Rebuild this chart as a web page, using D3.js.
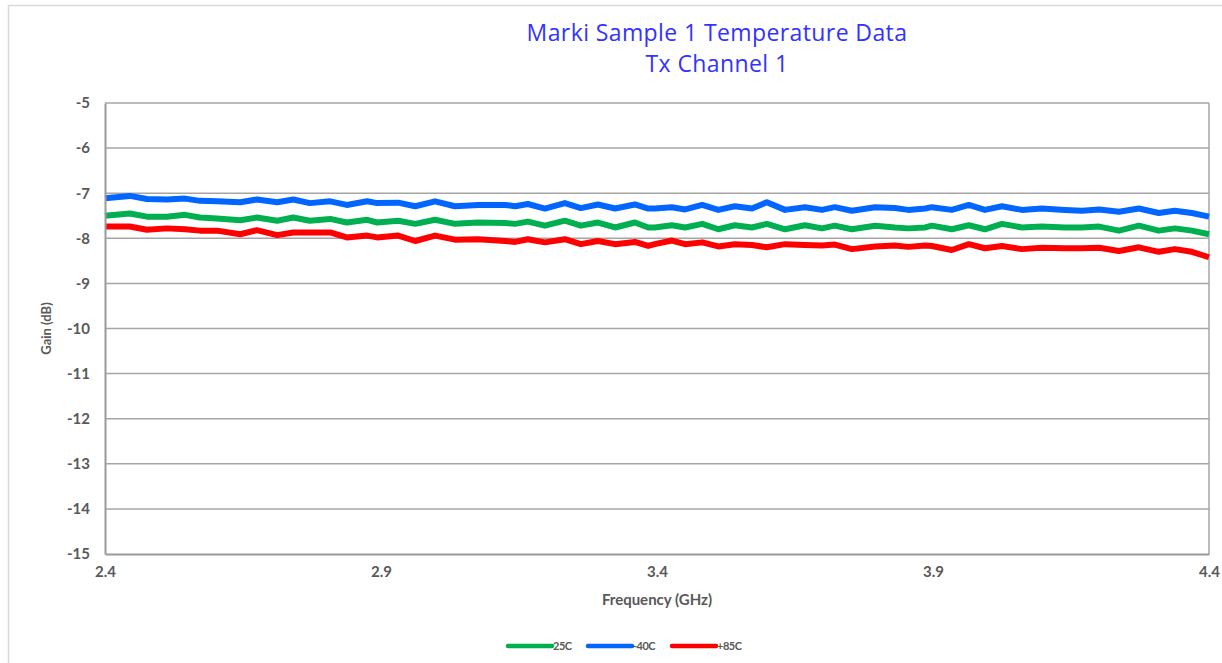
<!DOCTYPE html>
<html>
<head>
<meta charset="utf-8">
<script src="https://cdn.jsdelivr.net/npm/d3@7"></script>
<style>
  html, body { margin: 0; padding: 0; background: #ffffff; }
  svg { display: block; }
</style>
</head>
<body>
<svg id="chart" width="1222" height="663"></svg>
<script>
// ---- data ----
const titleLines = ["Marki Sample 1 Temperature Data", "Tx Channel 1"];
const xTickValues = [2.4, 2.9, 3.4, 3.9, 4.4];
const yTickValues = [-5, -6, -7, -8, -9, -10, -11, -12, -13, -14, -15];
const seriesNames = ["25C", "-40C", "+85C"];

const freq = [
  2.400, 2.445, 2.476, 2.512, 2.545, 2.572, 2.603, 2.645, 2.675, 2.712, 2.741, 2.771, 2.808, 2.838, 2.875, 2.893,
  2.931, 2.962, 2.998, 3.034, 3.076, 3.125, 3.143, 3.166, 3.197, 3.233, 3.262, 3.293, 3.324, 3.360, 3.384,
  3.396, 3.427, 3.451, 3.482, 3.511, 3.541, 3.572, 3.599, 3.632, 3.668, 3.699, 3.722, 3.753, 3.795, 3.831, 3.855, 3.886,
  3.898, 3.934, 3.965, 3.994, 4.025, 4.061, 4.097, 4.139, 4.170, 4.201, 4.237, 4.273, 4.309, 4.338, 4.369, 4.400
];

const gain25C = [
  -7.50, -7.45, -7.52, -7.52, -7.48, -7.54, -7.56, -7.60, -7.54, -7.61, -7.54, -7.61, -7.57, -7.65, -7.59, -7.65,
  -7.61, -7.68, -7.59, -7.68, -7.65, -7.66, -7.68, -7.63, -7.72, -7.61, -7.72, -7.65, -7.76, -7.65, -7.76,
  -7.76, -7.71, -7.76, -7.68, -7.80, -7.71, -7.76, -7.68, -7.80, -7.71, -7.78, -7.72, -7.80, -7.72, -7.76, -7.78, -7.76,
  -7.72, -7.80, -7.71, -7.80, -7.68, -7.76, -7.74, -7.76, -7.76, -7.74, -7.83, -7.72, -7.83, -7.78, -7.83, -7.91
];

const gainM40C = [
  -7.11, -7.06, -7.13, -7.14, -7.12, -7.17, -7.18, -7.20, -7.14, -7.20, -7.14, -7.22, -7.18, -7.26, -7.18, -7.22,
  -7.21, -7.29, -7.18, -7.29, -7.26, -7.26, -7.29, -7.24, -7.34, -7.22, -7.33, -7.25, -7.34, -7.25, -7.34,
  -7.34, -7.31, -7.36, -7.26, -7.37, -7.29, -7.34, -7.20, -7.37, -7.31, -7.37, -7.31, -7.39, -7.31, -7.33, -7.37, -7.34,
  -7.31, -7.37, -7.26, -7.37, -7.29, -7.37, -7.34, -7.37, -7.39, -7.36, -7.41, -7.34, -7.44, -7.39, -7.44, -7.52
];

const gainP85C = [
  -7.74, -7.74, -7.81, -7.78, -7.80, -7.83, -7.83, -7.91, -7.82, -7.93, -7.87, -7.87, -7.87, -7.98, -7.94, -7.98,
  -7.94, -8.06, -7.94, -8.03, -8.02, -8.06, -8.08, -8.02, -8.09, -8.02, -8.13, -8.06, -8.13, -8.08, -8.17,
  -8.13, -8.05, -8.13, -8.09, -8.18, -8.13, -8.15, -8.20, -8.13, -8.15, -8.16, -8.14, -8.24, -8.18, -8.16, -8.19, -8.16,
  -8.17, -8.26, -8.13, -8.22, -8.17, -8.24, -8.21, -8.22, -8.22, -8.21, -8.28, -8.20, -8.30, -8.24, -8.30, -8.42
];

const seriesColors = ["#00b050", "#0066ff", "#ff0000"];
const seriesValues = [gain25C, gainM40C, gainP85C];

// ---- layout ----
const svg = d3.select("#chart");
const plot = { left: 105, right: 1209, top: 103, bottom: 554 };

const x = d3.scaleLinear().domain([2.4, 4.4]).range([plot.left, plot.right]);
const y = d3.scaleLinear().domain([-15, -5]).range([plot.bottom, plot.top]);

// outer frame
svg.append("rect")
  .attr("x", 8.5).attr("y", 5.5)
  .attr("width", 1240).attr("height", 700)
  .attr("fill", "#ffffff")
  .attr("stroke", "#d9d9d9").attr("stroke-width", 1.5);

// title
const title = svg.append("text")
  .attr("text-anchor", "middle")
  .attr("fill", "#3333ff")
  .style("font-family", "'Open Sans', Lato, sans-serif")
  .style("font-size", "23px")
  .style("font-weight", "500")
  .style("letter-spacing", "0.4px");
title.selectAll("tspan").data(titleLines).join("tspan")
  .attr("x", 717)
  .attr("y", (d, i) => 41 + i * 31)
  .text(d => d);

// gridlines
svg.append("g")
  .selectAll("line").data(yTickValues.filter(v => v !== -15)).join("line")
  .attr("x1", plot.left).attr("x2", plot.right)
  .attr("y1", d => y(d)).attr("y2", d => y(d))
  .attr("stroke", "#a6a6a6").attr("stroke-width", 1.5);

// plot border right
svg.append("line")
  .attr("x1", plot.right).attr("x2", plot.right)
  .attr("y1", plot.top).attr("y2", plot.bottom)
  .attr("stroke", "#a6a6a6").attr("stroke-width", 1.5);

// series lines
const line = d3.line()
  .x((d, i) => x(freq[i]))
  .y(d => y(d))
  .curve(d3.curveLinear);

svg.append("g")
  .selectAll("path").data(seriesValues).join("path")
  .attr("d", d => line(d))
  .attr("fill", "none")
  .attr("stroke", (d, i) => seriesColors[i])
  .attr("stroke-width", 6)
  .attr("stroke-linejoin", "round");

// axes
const yAxis = d3.axisLeft(y).tickValues(yTickValues).tickSize(0).tickPadding(15)
  .tickFormat(d => String(d));
const gy = svg.append("g").attr("transform", `translate(${plot.left},0)`).call(yAxis);
gy.select(".domain").attr("stroke", "#9a9a9a").attr("stroke-width", 2);
gy.selectAll("text")
  .attr("fill", "#595959")
  .style("font-family", "Lato, 'Open Sans', sans-serif")
  .style("font-weight", "bold")
  .style("font-size", "15px");

const xAxis = d3.axisBottom(x).tickValues(xTickValues).tickSize(0).tickPadding(12)
  .tickFormat(d3.format(".1f"));
const gx = svg.append("g").attr("transform", `translate(0,${plot.bottom})`).call(xAxis);
gx.select(".domain").attr("stroke", "#9a9a9a").attr("stroke-width", 2);
gx.selectAll("text")
  .attr("fill", "#595959")
  .style("font-family", "Lato, 'Open Sans', sans-serif")
  .style("font-weight", "bold")
  .style("font-size", "15px");

// axis titles
svg.append("text")
  .attr("x", 657).attr("y", 605)
  .attr("text-anchor", "middle")
  .attr("fill", "#595959")
  .style("font-family", "Lato, 'Open Sans', sans-serif")
  .style("font-weight", "bold")
  .style("font-size", "15px")
  .text("Frequency (GHz)");

svg.append("text")
  .attr("transform", `translate(51,${(plot.top + plot.bottom) / 2}) rotate(-90)`)
  .attr("text-anchor", "middle")
  .attr("fill", "#595959")
  .style("font-family", "Lato, 'Open Sans', sans-serif")
  .style("font-weight", "bold")
  .style("font-size", "13px")
  .text("Gain (dB)");

// legend
const legendX = [508, 588, 672];
const lg = svg.append("g").selectAll("g").data(seriesNames).join("g")
  .attr("transform", (d, i) => `translate(${legendX[i]},646)`);
lg.append("line")
  .attr("x1", 0).attr("x2", 44).attr("y1", 0).attr("y2", 0)
  .attr("stroke", (d, i) => seriesColors[i])
  .attr("stroke-width", 4.5)
  .attr("stroke-linecap", "round");
lg.append("text")
  .attr("x", 45).attr("y", 4)
  .attr("fill", "#595959")
  .style("font-family", "Lato, 'Open Sans', sans-serif")
  .style("font-weight", "bold")
  .style("font-size", "11px")
  .style("letter-spacing", "-0.5px")
  .text(d => d);
</script>
</body>
</html>
